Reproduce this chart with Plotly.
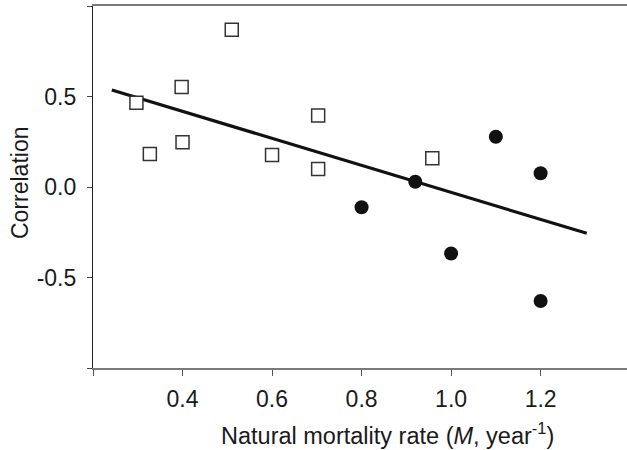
import plotly.graph_objects as go

# Open squares
sq_x = [0.297, 0.327, 0.398, 0.400, 0.510, 0.600, 0.703, 0.703, 0.958]
sq_y = [0.466, 0.183, 0.552, 0.247, 0.869, 0.177, 0.395, 0.100, 0.159]

# Filled circles
ci_x = [0.800, 0.920, 1.000, 1.100, 1.200, 1.200]
ci_y = [-0.112, 0.029, -0.367, 0.278, 0.076, -0.630]

# Regression line end points
fit_x = [0.242, 1.303]
fit_y = [0.536, -0.256]

x_ticks = [0.2, 0.4, 0.6, 0.8, 1.0, 1.2]
x_labels = ["", "0.4", "0.6", "0.8", "1.0", "1.2"]
y_ticks = [-1.0, -0.5, 0.0, 0.5, 1.0]
y_labels = ["", "-0.5", "0.0", "0.5", ""]

FONT = "Liberation Sans, Arial, sans-serif"
TXT = "#1a1a1a"

fig = go.Figure()
fig.add_trace(go.Scatter(x=fit_x, y=fit_y, mode="lines",
                         line=dict(color="#111111", width=3.2),
                         showlegend=False, hoverinfo="skip"))
fig.add_trace(go.Scatter(x=sq_x, y=sq_y, mode="markers",
                         marker=dict(symbol="square", size=13, color="white",
                                     line=dict(color="#333333", width=1.5)),
                         showlegend=False))
fig.add_trace(go.Scatter(x=ci_x, y=ci_y, mode="markers",
                         marker=dict(symbol="circle", size=14, color="#111111",
                                     line=dict(width=0)),
                         showlegend=False))

fig.update_layout(
    width=627, height=450,
    margin=dict(l=93, r=0, t=6, b=82),
    paper_bgcolor="white", plot_bgcolor="white",
    font=dict(family=FONT, size=23, color=TXT),
    xaxis=dict(range=[0.2, 1.393], tickvals=x_ticks, ticktext=x_labels,
               showgrid=False, zeroline=False,
               showline=True, linecolor="#7a7a7a", linewidth=2, mirror=True,
               ticks="outside", ticklen=6, tickcolor="#555555", tickwidth=1,
               ticklabelstandoff=3),
    yaxis=dict(range=[-1.0, 1.0], tickvals=y_ticks, ticktext=y_labels,
               showgrid=False, zeroline=False,
               showline=True, linecolor="#222222", linewidth=1.2,
               ticks="outside", ticklen=5, tickcolor="#444444", tickwidth=1,
               ticklabelstandoff=6),
    annotations=[
        dict(text="Natural mortality rate (<i>M</i>, year<sup>-1</sup>)",
             xref="paper", yref="paper", x=(387.5 - 93) / 534, y=(368 - 434) / 362,
             yanchor="middle", xanchor="center", showarrow=False,
             font=dict(family=FONT, size=23.5, color=TXT)),
        dict(text="Correlation", textangle=-90,
             xref="paper", yref="paper", x=(20 - 93) / 534, y=(368 - 183) / 362,
             xanchor="center", yanchor="middle", showarrow=False,
             font=dict(family=FONT, size=23, color=TXT)),
    ],
)

fig.write_html("out.html")
